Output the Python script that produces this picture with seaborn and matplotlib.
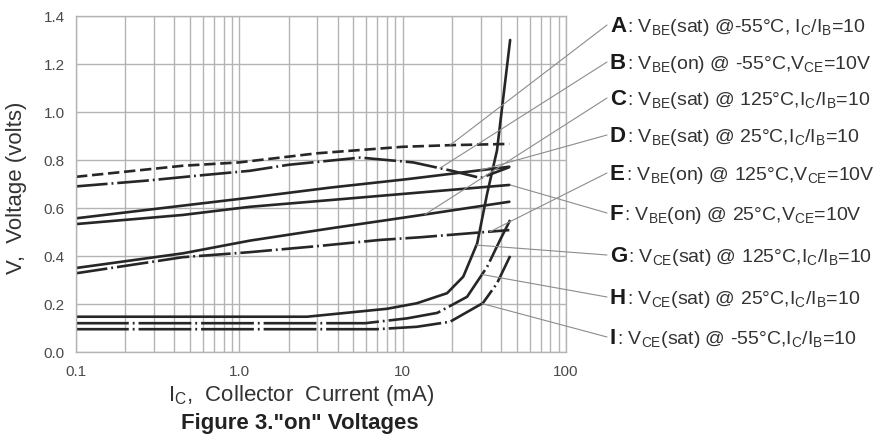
# "on" voltages chart (transistor datasheet, Figure 3)
import numpy as np
import pandas as pd
import matplotlib.pyplot as plt
import seaborn as sns
from matplotlib.ticker import NullFormatter

# --- data (x = Ic in mA, y = volts) ---
a_x = [0.1, 0.45, 1.0, 3.0, 10, 20, 45]
a_y = [0.73, 0.776, 0.79, 0.828, 0.855, 0.862, 0.867]
b_x = [0.1, 0.27, 0.6, 1.16, 2.0, 5.5, 11.6, 20, 30, 45]
b_y = [0.69, 0.714, 0.737, 0.755, 0.78, 0.81, 0.79, 0.755, 0.725, 0.77]
c_x = [0.1, 0.45, 1.16, 3.6, 12.8, 45]
c_y = [0.35, 0.411, 0.464, 0.515, 0.57, 0.626]
d_x = [0.1, 1.16, 3.6, 10.6, 45]
d_y = [0.557, 0.643, 0.685, 0.72, 0.772]
e_x = [0.1, 0.45, 1.16, 3.1, 7.3, 12.8, 45]
e_y = [0.328, 0.395, 0.416, 0.442, 0.467, 0.478, 0.508]
f_x = [0.1, 0.45, 1.16, 3.6, 10.6, 45]
f_y = [0.533, 0.571, 0.605, 0.633, 0.66, 0.696]
g_x = [0.1, 2.6, 8.0, 12.2, 18.7, 23.5, 28.6, 32.9, 37.8, 45.5]
g_y = [0.147, 0.147, 0.18, 0.203, 0.245, 0.314, 0.453, 0.66, 0.84, 1.30]
h_x = [0.1, 5.9, 10.6, 16.3, 24.8, 32.9, 39.5, 45.5]
h_y = [0.12, 0.12, 0.14, 0.163, 0.23, 0.355, 0.467, 0.55]
i_x = [0.1, 6.9, 12.2, 19.5, 31, 37.8, 45.5]
i_y = [0.095, 0.095, 0.105, 0.126, 0.204, 0.286, 0.40]

curve_names = ["A", "B", "C", "D", "E", "F", "G", "H", "I"]
curve_x = [a_x, b_x, c_x, d_x, e_x, f_x, g_x, h_x, i_x]
curve_y = [a_y, b_y, c_y, d_y, e_y, f_y, g_y, h_y, i_y]

VBE = r"V$_{\mathregular{BE}}$"
VCE = r"V$_{\mathregular{CE}}$"
ICIB = r"I$_{\mathregular{C}}$/I$_{\mathregular{B}}$"
curve_labels = [
    f"{VBE}(sat) @-55°C, {ICIB}=10",
    f"{VBE}(on) @ -55°C,{VCE}=10V",
    f"{VBE}(sat) @ 125°C,{ICIB}=10",
    f"{VBE}(sat) @ 25°C,{ICIB}=10",
    f"{VBE}(on) @ 125°C,{VCE}=10V",
    f"{VBE}(on) @ 25°C,{VCE}=10V",
    f"{VCE}(sat) @ 125°C,{ICIB}=10",
    f"{VCE}(sat) @ 25°C,{ICIB}=10",
    f"{VCE}(sat) @ -55°C,{ICIB}=10",
]
# where each leader line touches its curve (mA)
leader_x = [19.5, 16.9, 13.7, 29.8, 34.3, 45.5, 28.3, 30.6, 30.6]

x_ticks = [0.1, 1, 10, 100]
x_tick_labels = ["0.1", "1.0", "10", "100"]
y_ticks = [0.0, 0.2, 0.4, 0.6, 0.8, 1.0, 1.2, 1.4]

rows = []
for name, xs, ys in zip(curve_names, curve_x, curve_y):
    for x, y in zip(xs, ys):
        rows.append({"curve": name, "current": x, "voltage": y})
df = pd.DataFrame(rows)

sns.set_style("white")
plt.rcParams["font.family"] = ["Liberation Sans", "DejaVu Sans"]
plt.rcParams["mathtext.fontset"] = "custom"
plt.rcParams["mathtext.rm"] = "Liberation Sans"

W, H = 878, 440
fig = plt.figure(figsize=(W / 100, H / 100), dpi=100)
ax = fig.add_axes([76 / W, 88 / H, 490 / W, 336 / H])

dash_dot = (12, 1.5, 0.7, 1.5)
long_dash_dot = (20, 1.5, 0.7, 1.5)
dash_map = {"A": (4.3, 1.8), "B": dash_dot, "C": "", "D": "", "E": dash_dot,
            "F": "", "G": "", "H": long_dash_dot, "I": long_dash_dot}

ax.set_xscale("log")
sns.lineplot(data=df, x="current", y="voltage", style="curve", dashes=dash_map,
             style_order=curve_names, color="#262626", linewidth=1.9,
             estimator=None, legend=False, ax=ax)

ax.set_xlim(0.1, 100)
ax.set_ylim(0, 1.4)
ax.set_xticks(x_ticks)
ax.set_xticklabels(x_tick_labels)
ax.xaxis.set_minor_formatter(NullFormatter())
ax.set_yticks(y_ticks)
ax.set_yticklabels([f"{v:.1f}" for v in y_ticks])
ax.tick_params(which="both", length=0, labelsize=11, colors="#4a4a4a")
ax.tick_params(axis="x", pad=9)
ax.tick_params(axis="y", pad=8)

grid_col = "#b4b4b4"
ax.grid(which="both", axis="x", color=grid_col, lw=1.0)
ax.grid(which="major", axis="y", color=grid_col, lw=1.0)
for s in ax.spines.values():
    s.set_color(grid_col)
    s.set_linewidth(1.0)

ax.set_xlabel(r"I$_{\mathregular{C}}$,  Collector  Current (mA)", fontsize=16,
              color="#333333", va="center")
ax.xaxis.set_label_coords((301 - 76) / 490, (352 - 395) / 336)
ax.set_ylabel("V,  Voltage (volts)", fontsize=16, color="#333333", va="center")
ax.yaxis.set_label_coords((17 - 76) / 490, (352 - 188) / 336)

fig.text(300 / W, 1 - 423 / H, 'Figure 3."on" Voltages', ha="center",
         va="center", fontsize=16, weight="bold", color="#222222")

# labels on the right with leader lines
label_rows = [25, 62, 98, 135, 173, 213, 255, 297, 337]
for name, text, xs, ys, lx, ry in zip(curve_names, curve_labels, curve_x,
                                      curve_y, leader_x, label_rows):
    ly = np.interp(np.log10(lx), np.log10(xs), ys)
    ax.annotate("", xy=(lx, ly), xycoords="data",
                xytext=(607 / W, 1 - ry / H), textcoords="figure fraction",
                arrowprops=dict(arrowstyle="-", color="#8c8c8c", lw=0.8,
                                shrinkA=0, shrinkB=0),
                annotation_clip=False)
    base = 1 - (ry + 7) / H
    letter = fig.text(610 / W, base, name, fontsize=16, weight="bold",
                      color="#1a1a1a", va="baseline", ha="left")
    ax.annotate(": " + text, xy=(1.0, base),
                xycoords=(letter, "figure fraction"),
                xytext=(0.5, 0), textcoords="offset points",
                fontsize=14, color="#333333", va="baseline", ha="left",
                annotation_clip=False)

fig.savefig("out.png", dpi=100)
